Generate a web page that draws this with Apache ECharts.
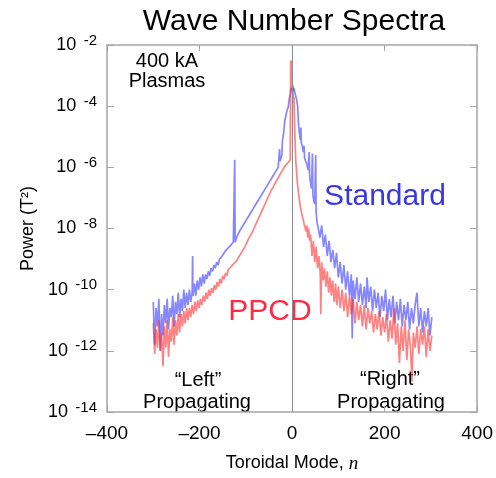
<!DOCTYPE html>
<html><head><meta charset="utf-8">
<script src="https://cdn.jsdelivr.net/npm/echarts@6.0.0/dist/echarts.min.js"></script>
<style>html,body{margin:0;padding:0;background:#fff}#c{width:496px;height:478px}</style>
</head><body><div id="c"></div>
<script>
// Toroidal mode number n and log10 of power (T^2)
const yTickExponents = [-14, -12, -10, -8, -6, -4, -2];
const xTickValues = [-400, -200, 0, 200, 400];

const standardSpectrum = [
[-300,-10.4],[-297,-11.8],[-294,-10.6],[-291,-11.2],[-288,-10.3],[-285,-12.0],[-282,-10.8],[-279,-11.5],[-276,-10.5],[-273,-11.1],
[-270,-10.3],[-267,-11.3],[-264,-10.6],[-261,-10.9],[-258,-10.2],[-255,-11.2],[-252,-10.4],[-249,-10.8],[-246,-10.1],[-243,-10.9],
[-240,-10.3],[-237,-10.7],[-234,-10.0],[-231,-10.6],[-228,-10.1],[-225,-10.5],[-222,-10.0],[-219,-10.4],[-216,-10.1],[-215,-8.9],
[-214,-10.2],[-211,-9.8],[-208,-10.2],[-205,-9.7],[-202,-10.0],[-199,-9.6],[-196,-9.9],[-193,-9.5],[-190,-9.8],[-187,-9.5],
[-184,-9.65],[-181,-9.4],[-178,-9.55],[-175,-9.3],[-172,-9.4],[-169,-9.2],[-166,-9.3],[-163,-9.1],[-160,-9.2],[-157,-9.0],
[-154,-9.05],[-151,-8.9],[-148,-8.95],[-145,-8.75],[-142,-8.8],[-139,-8.65],[-136,-8.7],[-133,-8.55],[-130,-8.6],[-127,-8.45],
[-125,-8.5],[-124,-5.75],[-123,-8.45],[-120,-8.3],[-117,-8.25],[-114,-8.1],[-111,-8.05],[-108,-7.95],[-105,-7.9],[-102,-7.8],
[-99,-7.75],[-96,-7.65],[-93,-7.6],[-90,-7.5],[-87,-7.45],[-84,-7.35],[-81,-7.3],[-78,-7.2],[-75,-7.15],[-72,-7.05],
[-69,-7.0],[-66,-6.9],[-63,-6.85],[-60,-6.75],[-57,-6.7],[-54,-6.6],[-51,-6.55],[-48,-6.45],[-45,-6.4],[-42,-6.3],
[-39,-6.25],[-36,-6.15],[-33,-6.1],[-30,-6.0],[-28,-5.95],[-27,-5.4],[-26,-5.8],[-24,-5.75],[-22,-5.6],[-21,-5.15],
[-20,-5.1],[-18,-4.85],[-16,-4.5],[-14,-4.45],[-12,-4.2],[-10,-4.1],[-8,-4.0],[-6,-3.75],[-4,-3.6],[-2,-3.4],
[0,-3.35],[2,-3.5],[4,-3.4],[6,-3.55],[8,-3.5],[10,-3.8],[12,-4.0],[14,-4.6],[16,-4.9],[18,-5.1],
[19,-4.7],[20,-5.2],[22,-5.3],[24,-5.5],[26,-5.3],[27,-5.7],[29,-5.75],[31,-5.85],[33,-5.9],[35,-6.1],
[37,-5.5],[38,-6.3],[40,-6.5],[42,-6.7],[44,-5.55],[45,-6.9],[47,-7.1],[49,-7.2],[51,-5.6],[52,-7.5],
[54,-7.8],[56,-7.95],[58,-8.1],[60,-8.3],[64,-7.9],[68,-8.6],[72,-8.2],[76,-8.9],[80,-8.4],[84,-9.1],
[88,-8.7],[92,-9.3],[96,-8.8],[100,-9.6],[104,-9.1],[108,-9.8],[112,-9.2],[116,-10.0],[120,-9.4],[124,-10.2],
[128,-9.5],[130,-11.6],[132,-9.7],[136,-10.3],[140,-9.6],[144,-10.4],[148,-9.8],[152,-10.5],[156,-9.9],[160,-10.6],
[162,-9.6],[166,-10.4],[170,-9.9],[174,-10.7],[178,-10.0],[182,-10.6],[186,-10.1],[190,-10.9],[194,-10.2],[198,-10.7],
[202,-10.0],[206,-11.0],[210,-10.3],[214,-10.9],[218,-10.2],[222,-11.1],[226,-10.4],[230,-11.0],[234,-10.3],[238,-11.2],
[242,-10.5],[246,-11.0],[250,-10.4],[254,-11.3],[258,-10.6],[262,-11.1],[266,-10.5],[270,-10.1],[274,-11.2],[278,-10.6],
[282,-11.4],[286,-10.7],[290,-11.2],[294,-10.6],[298,-11.5],[302,-10.9]
];

const ppcdSpectrum = [
[-300,-11.1],[-297,-12.1],[-294,-11.3],[-291,-11.9],[-288,-11.0],[-285,-12.0],[-282,-11.4],[-279,-12.5],[-276,-11.2],[-273,-11.9],
[-270,-11.0],[-267,-12.2],[-264,-11.3],[-261,-11.7],[-258,-10.9],[-255,-11.8],[-252,-11.0],[-249,-11.5],[-246,-10.8],[-243,-11.4],
[-240,-10.8],[-237,-11.2],[-234,-10.7],[-231,-11.1],[-228,-10.6],[-225,-11.0],[-222,-10.6],[-219,-10.9],[-216,-10.5],[-213,-10.8],
[-210,-10.4],[-207,-10.7],[-204,-10.35],[-201,-10.6],[-198,-10.3],[-195,-10.5],[-192,-10.2],[-189,-10.4],[-186,-10.1],[-183,-10.3],
[-180,-10.0],[-177,-10.2],[-174,-9.95],[-171,-10.1],[-168,-9.85],[-165,-10.0],[-162,-9.75],[-159,-9.9],[-156,-9.65],[-153,-9.8],
[-150,-9.55],[-147,-9.65],[-144,-9.45],[-141,-9.55],[-138,-9.35],[-135,-9.4],[-132,-9.25],[-129,-9.3],[-126,-9.15],[-123,-9.2],
[-120,-9.05],[-117,-9.0],[-114,-8.9],[-111,-8.85],[-108,-8.75],[-105,-8.7],[-102,-8.6],[-99,-8.5],[-96,-8.4],[-93,-8.3],
[-90,-8.25],[-87,-8.15],[-84,-8.05],[-81,-7.95],[-78,-7.85],[-75,-7.75],[-72,-7.65],[-69,-7.55],[-66,-7.45],[-63,-7.35],
[-60,-7.25],[-57,-7.15],[-54,-7.05],[-51,-6.95],[-48,-6.85],[-45,-6.75],[-42,-6.7],[-39,-6.6],[-36,-6.5],[-33,-6.45],
[-30,-6.35],[-27,-6.25],[-24,-6.2],[-21,-6.1],[-18,-6.05],[-15,-5.95],[-12,-5.9],[-9,-5.85],[-6,-5.8],[-4,-5.75],
[-3,-2.6],[-2,-2.5],[-1,-3.2],[0,-3.0],[1,-3.6],[2,-3.3],[3,-3.9],[4,-3.7],[5,-4.4],[6,-4.9],
[7,-5.4],[8,-5.8],[10,-6.2],[12,-6.6],[14,-6.85],[16,-7.1],[18,-7.3],[20,-7.45],[22,-7.6],[24,-7.7],
[26,-7.85],[28,-7.8],[30,-8.1],[32,-7.9],[34,-8.3],[36,-8.0],[38,-8.4],[40,-8.2],[43,-8.9],[46,-8.4],
[49,-9.1],[52,-8.6],[55,-9.3],[58,-8.9],[61,-9.5],[62,-10.8],[64,-9.1],[67,-9.7],[70,-9.3],[73,-9.9],
[76,-9.4],[79,-10.1],[82,-9.6],[85,-10.2],[88,-9.7],[91,-10.4],[94,-9.8],[97,-10.5],[100,-9.9],[104,-10.6],
[108,-10.0],[112,-10.7],[116,-10.1],[120,-10.9],[124,-10.2],[128,-10.8],[132,-10.3],[136,-11.1],[140,-10.4],[144,-11.0],
[148,-10.5],[152,-11.2],[156,-10.5],[160,-11.3],[164,-10.6],[168,-11.1],[172,-10.7],[176,-11.4],[180,-10.8],[184,-11.3],
[188,-10.7],[192,-11.5],[196,-10.9],[200,-11.4],[204,-10.8],[208,-11.7],[212,-11.0],[216,-11.6],[220,-10.6],[224,-11.8],
[228,-11.1],[232,-12.4],[236,-11.2],[240,-12.0],[244,-11.0],[248,-12.3],[252,-11.3],[256,-11.9],[259,-13.0],[262,-11.4],
[266,-11.9],[270,-11.2],[274,-12.1],[278,-11.3],[282,-11.8],[286,-11.2],[290,-12.2],[294,-11.3],[298,-12.0],[302,-11.5]
];

const F = '"Liberation Sans", Helvetica, Arial, sans-serif';
const axisGray = '#a6a6a6';
const chart = echarts.init(document.getElementById('c'));

const xCommon = {
  type: 'value', min: -400, max: 400, interval: 200,
  axisLine: { onZero: false, lineStyle: { color: axisGray, width: 1.5 } },
  axisTick: { inside: true, length: 6, lineStyle: { color: axisGray } },
  splitLine: { show: false }
};
const yCommon = {
  type: 'value', min: -14, max: -2, interval: 2,
  axisLine: { onZero: false, lineStyle: { color: axisGray, width: 1.5 } },
  axisTick: { inside: true, length: 7, lineStyle: { color: axisGray } },
  splitLine: { show: false }
};

chart.setOption({
  animation: false,
  grid: { left: 107, right: 17, top: 45, bottom: 62 },
  xAxis: [
    Object.assign({}, xCommon, {
      position: 'bottom',
      axisLabel: {
        color: '#000', fontSize: 19, fontFamily: F, margin: 12,
        formatter: v => xTickValues.includes(v) ? (v < 0 ? '\u2013' + Math.abs(v) : String(v)) : ''
      },
      name: '{a|Toroidal Mode, }{b|n}', nameLocation: 'middle', nameGap: 42,
      nameTextStyle: { rich: {
        a: { fontSize: 18, fontFamily: F, color: '#000' },
        b: { fontSize: 19, fontFamily: '"Liberation Serif", serif', fontStyle: 'italic', color: '#000' }
      } }
    }),
    Object.assign({}, xCommon, { position: 'top', axisLabel: { show: false } })
  ],
  yAxis: [
    Object.assign({}, yCommon, {
      position: 'left',
      axisLabel: {
        margin: 10,
        formatter: v => yTickExponents.includes(v) ? '{b|10} {e|' + v + '}' : '',
        rich: {
          b: { fontSize: 18, fontFamily: F, color: '#000' },
          e: { fontSize: 15, fontFamily: F, color: '#000', padding: [0, 0, 9, 4] }
        }
      },
      name: 'Power (T\u00B2)', nameLocation: 'middle', nameRotate: 90, nameGap: 67,
      nameTextStyle: { fontSize: 18, fontFamily: F, color: '#000' }
    }),
    Object.assign({}, yCommon, { position: 'right', axisLabel: { show: false } })
  ],
  series: [
    {
      name: 'Standard', type: 'line', xAxisIndex: 0, yAxisIndex: 0,
      data: standardSpectrum, showSymbol: false, symbol: 'none',
      lineStyle: { color: 'rgba(60,60,255,0.62)', width: 1.7 }
    },
    {
      name: 'PPCD', type: 'line', xAxisIndex: 0, yAxisIndex: 0,
      data: ppcdSpectrum, showSymbol: false, symbol: 'none',
      lineStyle: { color: 'rgba(255,45,45,0.6)', width: 1.7 },
      markLine: {
        silent: true, symbol: 'none', label: { show: false },
        lineStyle: { color: '#8c8c8c', width: 1, type: 'solid' },
        data: [{ xAxis: 0 }]
      }
    }
  ],
  graphic: [
    { type: 'text', x: 294, y: 22, style: { text: 'Wave Number Spectra', fontSize: 30, fontFamily: F, fill: '#000', align: 'center', verticalAlign: 'middle' } },
    { type: 'text', x: 167, y: 61, style: { text: '400 kA', fontSize: 20, fontFamily: F, fill: '#000', align: 'center', verticalAlign: 'middle' } },
    { type: 'text', x: 167, y: 81, style: { text: 'Plasmas', fontSize: 20, fontFamily: F, fill: '#000', align: 'center', verticalAlign: 'middle' } },
    { type: 'text', x: 385, y: 197, style: { text: 'Standard', fontSize: 30, fontFamily: F, fill: '#3737e6', align: 'center', verticalAlign: 'middle' } },
    { type: 'text', x: 270, y: 312, style: { text: 'PPCD', fontSize: 30, fontFamily: F, fill: '#ff2b45', align: 'center', verticalAlign: 'middle' } },
    { type: 'text', x: 198, y: 380, style: { text: '\u201CLeft\u201D', fontSize: 20, fontFamily: F, fill: '#000', align: 'center', verticalAlign: 'middle' } },
    { type: 'text', x: 197, y: 402, style: { text: 'Propagating', fontSize: 20, fontFamily: F, fill: '#000', align: 'center', verticalAlign: 'middle' } },
    { type: 'text', x: 390, y: 379, style: { text: '\u201CRight\u201D', fontSize: 20, fontFamily: F, fill: '#000', align: 'center', verticalAlign: 'middle' } },
    { type: 'text', x: 391, y: 402, style: { text: 'Propagating', fontSize: 20, fontFamily: F, fill: '#000', align: 'center', verticalAlign: 'middle' } }
  ]
});
</script>
</body></html>
